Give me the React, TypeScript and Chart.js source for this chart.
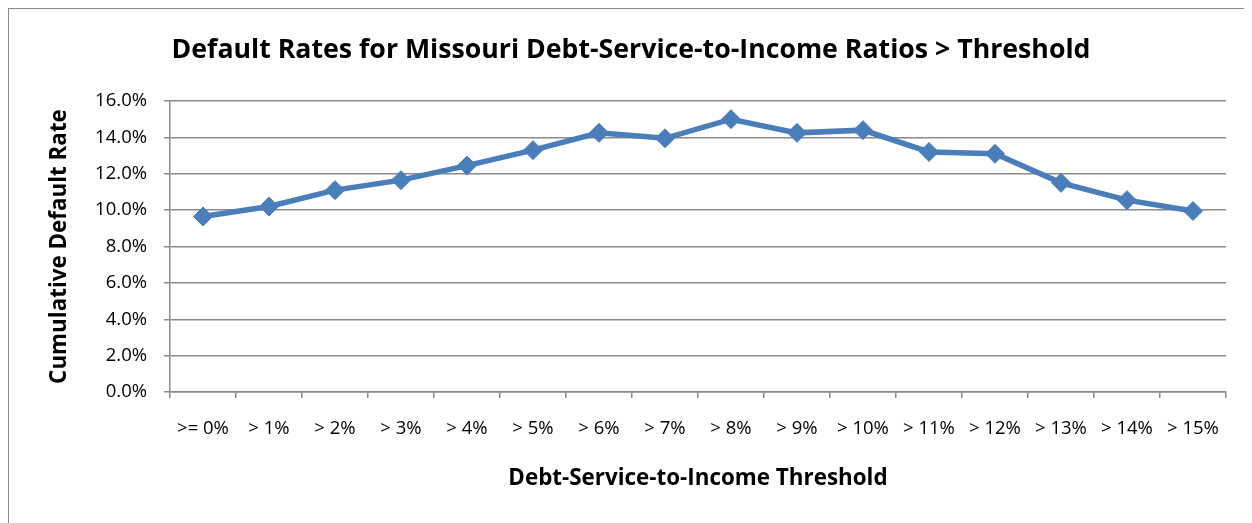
import React, { useEffect, useRef } from "react";
import { Chart, registerables } from "chart.js";

Chart.register(...registerables);

const categories = [">= 0%", "> 1%", "> 2%", "> 3%", "> 4%", "> 5%", "> 6%", "> 7%", "> 8%", "> 9%", "> 10%", "> 11%", "> 12%", "> 13%", "> 14%", "> 15%"];
const defaultRates = [9.65, 10.2, 11.1, 11.65, 12.45, 13.3, 14.25, 13.95, 15.0, 14.25, 14.4, 13.2, 13.1, 11.5, 10.55, 9.95];
const chartTitle = "Default Rates for Missouri Debt-Service-to-Income Ratios > Threshold";
const xTitle = "Debt-Service-to-Income Threshold";
const yTitle = "Cumulative Default Rate";
const yMin = 0;
const yMax = 16;
const yStep = 2;

const FONT = "'Open Sans', Lato, sans-serif";
const GRID = "#8a8a8a";
const BLUE = "#4a7ebb";

export default function App() {
  const ref = useRef<HTMLCanvasElement | null>(null);
  useEffect(() => {
    if (!ref.current) return;
    const chart = new Chart(ref.current, {
      type: "line",
      data: {
        labels: categories,
        datasets: [
          {
            data: defaultRates,
            borderColor: BLUE,
            backgroundColor: BLUE,
            borderWidth: 5.5,
            pointStyle: "rectRot",
            pointRadius: 9.5,
            pointBorderWidth: 1,
            pointBackgroundColor: BLUE,
            pointBorderColor: BLUE,
            tension: 0,
          },
        ],
      },
      options: {
        responsive: false,
        animation: false,
        layout: { padding: { left: 0, right: 0, top: 0, bottom: 0 } },
        plugins: {
          legend: { display: false },
          tooltip: { enabled: false },
          title: {
            display: true,
            text: chartTitle,
            color: "#000",
            font: { family: FONT, size: 26.7, weight: "bold" },
            padding: { top: 25.5, bottom: 34.5 },
          },
        },
        scales: {
          x: {
            type: "category",
            offset: true,
            grid: {
              display: true,
              drawOnChartArea: false,
              drawTicks: true,
              tickLength: 6,
              color: GRID,
              lineWidth: 1.5,
              offset: true,
            },
            border: { display: true, color: GRID, width: 1.5 },
            ticks: {
              color: "#000",
              font: { family: FONT, size: 18.5 },
              padding: 19.9,
              maxRotation: 0,
              autoSkip: false,
            },
            title: {
              display: true,
              text: xTitle,
              color: "#000",
              font: { family: FONT, size: 22.4, weight: "bold" },
              padding: { top: 0, bottom: 30.6 },
            },
            afterFit: (s: any) => {
              s.height = 131;
            },
          },
          y: {
            min: yMin,
            max: yMax,
            grid: {
              color: GRID,
              lineWidth: 1.5,
              drawTicks: true,
              tickLength: 6,
            },
            border: { display: true, color: GRID, width: 1.5 },
            ticks: {
              stepSize: yStep,
              color: "#000",
              font: { family: FONT, size: 18.5 },
              padding: 17,
              callback: (v: any) => Number(v).toFixed(1) + "%",
            },
            title: {
              display: true,
              text: yTitle,
              color: "#000",
              font: { family: FONT, size: 22.4, weight: "bold" },
              padding: { top: 37.6, bottom: 0 },
            },
            afterFit: (s: any) => {
              s.width = 161;
            },
          },
          spacer: {
            type: "linear",
            position: "right",
            display: true,
            ticks: { display: false },
            grid: { display: false, drawTicks: false },
            border: { display: false },
            afterFit: (s: any) => {
              s.width = 27;
            },
          },
        },
      },
    } as any);
    return () => chart.destroy();
  }, []);

  return (
    <div
      style={{
        position: "relative",
        width: 1244,
        height: 515,
        borderLeft: "1px solid #8a8a8a",
        borderTop: "1px solid #8a8a8a",
        boxSizing: "border-box",
        background: "#fff",
        overflow: "hidden",
      }}
    >
      <canvas
        ref={ref}
        width={1244}
        height={514}
        style={{ position: "absolute", left: 0, top: 0, width: 1244, height: 514 }}
      />
    </div>
  );
}
